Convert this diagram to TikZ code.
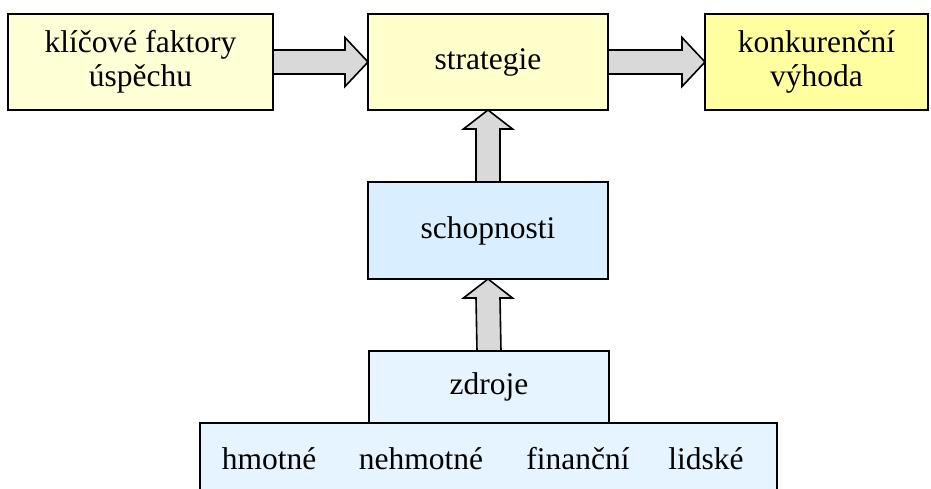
\documentclass[tikz,border=0pt]{standalone}
\usepackage{fontspec}
\setmainfont{LiberationSerif}[Extension=.ttf, UprightFont=*-Regular, BoldFont=*-Bold]
\usetikzlibrary{calc}

\definecolor{paleyellow}{HTML}{FFFFD6}
\definecolor{midyellow}{HTML}{FFFFCC}
\definecolor{deepyellow}{HTML}{FFFFA0}
\definecolor{skyblue}{HTML}{D9EFFF}
\definecolor{paleblue}{HTML}{E6F4FF}
\definecolor{arrowgray}{HTML}{D9D9D9}

\tikzset{
  box/.style={draw=black, line width=1.6pt, outer sep=0pt, inner sep=0pt,
              align=center, font=\fontsize{31.5}{34}\selectfont},
  label/.style={inner sep=0pt, anchor=base, font=\fontsize{31.5}{34}\selectfont},
  blockarrow/.style={draw=black, fill=arrowgray, line width=1.6pt, line join=miter},
}

% horizontal block arrow from the east side of #1 to the west side of #2
\newcommand\hblock[2]{%
  \draw[blockarrow] ($(#1.east)+(0,-12)$) -- ($(#2.west)+(-23,-12)$)
    -- ($(#2.west)+(-23,-24.5)$) -- (#2.west) -- ($(#2.west)+(-23,24.5)$)
    -- ($(#2.west)+(-23,12)$) -- ($(#1.east)+(0,12)$) -- cycle;}
% vertical block arrow from the top of #1 to the bottom of #2
\newcommand\vblock[2]{%
  \draw[blockarrow] ($(#1.north)+(-12,0)$) -- ($(#2.south)+(-12,19)$)
    -- ($(#2.south)+(-24.5,19)$) -- (#2.south) -- ($(#2.south)+(24.5,19)$)
    -- ($(#2.south)+(12,19)$) -- ($(#1.north)+(12,0)$) -- cycle;}

\begin{document}
\begin{tikzpicture}[x=1pt, y=-1pt]
  \useasboundingbox (0,0) rectangle (931,489);
  \clip (0,0) rectangle (931,489);

  % top row
  \node[box, fill=paleyellow, minimum width=265pt, minimum height=96pt]
    (kfu) at (140.5,62) {klíčové faktory\\úspěchu};
  \node[box, fill=midyellow, minimum width=240pt, minimum height=96pt]
    (strat) at (488,62) {strategie};
  \node[box, fill=deepyellow, minimum width=223pt, minimum height=96pt]
    (kv) at (816.5,62) {konkurenční\\výhoda};

  % capabilities and resources
  \node[box, fill=skyblue, minimum width=240pt, minimum height=97pt]
    (schop) at (488,230.5) {schopnosti};
  \node[box, fill=paleblue, minimum width=240pt, minimum height=72pt]
    (zdroje) at (489,387) {zdroje};
  \node[box, fill=paleblue, minimum width=577pt, minimum height=120pt]
    (druhy) at (488.5,483) {};

  \node[label] (hmot) at (269,469) {hmotné};
  \node[label] (nehmot) at (421,469) {nehmotné};
  \node[label] (fin) at (578,469) {finanční};
  \node[label] (lid) at (706,469) {lidské};

  % connectors
  \hblock{kfu}{strat}
  \hblock{strat}{kv}
  \vblock{schop}{strat}
  \vblock{zdroje}{schop}
\end{tikzpicture}
\end{document}
